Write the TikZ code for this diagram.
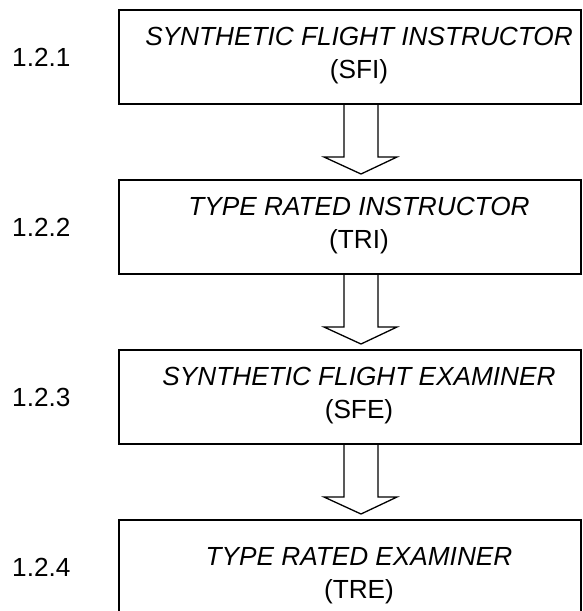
\documentclass[tikz,border=0pt]{standalone}
\usepackage{fontspec}
\setmainfont{Liberation Sans}
\usetikzlibrary{calc}
\tikzset{
  box/.style={draw=black, line width=2pt, minimum width=462pt, minimum height=94pt, inner sep=0pt, anchor=north west},
  boxtext/.style={align=center, inner sep=0pt, font=\fontsize{26.2}{33}\selectfont},
  numlabel/.style={anchor=west, inner sep=0pt, font=\fontsize{26.2}{32}\selectfont},
  hollowarrow/.style={draw=black, line width=1.3pt, line join=miter},
}
\begin{document}
\begin{tikzpicture}[x=1pt,y=-1pt]
\useasboundingbox (0,0) rectangle (582,611);
\clip (0,0) rectangle (582,611);
\node[box] (b1) at (118,9) {};
\node[box] (b2) at (118,179) {};
\node[box] (b3) at (118,349) {};
\node[box, minimum height=114pt] (b4) at (118,519) {};
\node[boxtext] (t1) at ($(b1.center)+(9,-1)$) {\itshape SYNTHETIC FLIGHT INSTRUCTOR\\(SFI)};
\node[boxtext] (t2) at ($(b2.center)+(9,-1)$) {\itshape TYPE RATED INSTRUCTOR\\(TRI)};
\node[boxtext] (t3) at ($(b3.center)+(9,-1)$) {\itshape SYNTHETIC FLIGHT EXAMINER\\(SFE)};
\node[boxtext] (t4) at ($(b4.center)+(9,-1)$) {\itshape TYPE RATED EXAMINER\\(TRE)};
\node[numlabel] (n1) at (12,57) {1.2.1};
\node[numlabel] (n2) at (12,227) {1.2.2};
\node[numlabel] (n3) at (12,397) {1.2.3};
\node[numlabel] (n4) at (12,567) {1.2.4};
\foreach \a/\b in {b1/b2,b2/b3,b3/b4}{
  \coordinate (top) at ($(\a.south)+(11,0)$);
  \coordinate (tip) at ($(\b.north)+(11,-5)$);
  \draw[hollowarrow] ($(top)+(-17,0)$) -- ($(top)+(-17,52)$) -- ($(top)+(-37,52)$) -- (tip)
    -- ($(top)+(36,52)$) -- ($(top)+(17,52)$) -- ($(top)+(17,0)$);
}
\end{tikzpicture}
\end{document}
